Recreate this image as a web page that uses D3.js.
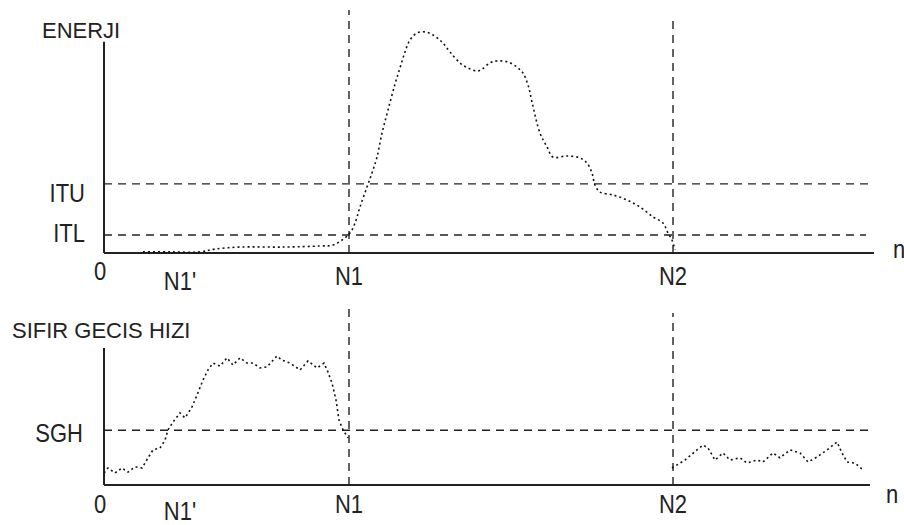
<!DOCTYPE html>
<html>
<head>
<meta charset="utf-8">
<title>Enerji ve Sifir Gecis Hizi</title>
<script src="https://cdn.jsdelivr.net/npm/d3@7"></script>
<style>
  body { margin: 0; background: #fff; }
  text { font-family: "Liberation Sans", Arial, sans-serif; fill: #222; }
</style>
</head>
<body>
<script>
// frame positions of the markers
var markN1p = 38, markN1 = 122.5, markN2 = 284.5;

// energy curve (frame, energy)
var energyFrames = [19.5, 33, 48, 55.5, 68, 89.5, 108, 114.5, 119, 123, 125.5, 128, 131.5, 134, 136.5, 139, 142, 145.5, 148, 150.5, 153, 156.5, 160.5, 164.5, 169, 173, 178, 182, 186.5, 189, 193, 196.5, 202, 206.5, 209.5, 212, 214, 218, 221.5, 224.5, 231.5, 238, 241.5, 244, 245.5, 248, 254.5, 261.5, 268, 274.5, 279.5, 282, 284, 285.5];
var energyValues = [0.5, 0.5, 0.5, 1.8, 2.7, 2.7, 3.2, 3.6, 5.9, 9.1, 13.6, 20.9, 30, 36.4, 43.6, 54.5, 65, 76.8, 84.1, 91.4, 96.8, 100, 100.5, 99.1, 95.9, 91.4, 86.4, 84.1, 82.7, 83.6, 86.4, 87.3, 86.8, 84.5, 81.8, 76.4, 68.6, 54.5, 48.2, 43.6, 44.1, 43.2, 40.9, 36.4, 30.9, 27.7, 26.4, 24.1, 20.9, 16.4, 13.6, 9.1, 5.9, 1.4];

// zero crossing rate, first segment (speech start) and second segment (after N2)
var zcrFramesA = [0, 2, 5.5, 9, 12, 15.5, 19, 22, 24.5, 28, 30.5, 32, 34.5, 38, 40.5, 44, 46.5, 49.5, 52, 54.5, 58, 61.5, 64.5, 68, 71.5, 74.5, 78, 81.5, 86.5, 89, 93, 98, 102, 106.5, 110, 112, 114, 116, 117.5, 119.5, 122];
var zcrValuesA = [4.4, 6.2, 4.4, 6.2, 4.7, 6.6, 6.2, 9.9, 12.8, 13.5, 16.4, 20.1, 23, 26.3, 24.5, 28.5, 32.8, 38.3, 42, 44.5, 43.4, 46.4, 43.8, 46.4, 44.5, 44.5, 42.7, 43.1, 47.1, 45.6, 44.5, 42, 45.3, 42.7, 44.5, 41.2, 37.2, 31, 23.7, 20.1, 17.2];
var zcrFramesB = [284, 290.5, 296.5, 299.5, 302, 305.5, 309.5, 313, 318, 321.5, 326.5, 329.5, 334.5, 338, 343, 348, 352, 356.5, 361.5, 366.5, 369, 371.5, 375.5, 379.5];
var zcrValuesB = [6.2, 9.1, 12.8, 14.6, 13.5, 9.1, 11.7, 9.1, 9.9, 8, 9.1, 8.4, 11.7, 9.9, 12.8, 11.7, 8.4, 10.2, 12.8, 15.7, 11.7, 8.4, 8, 5.5];

// thresholds
var itu = 31.4, itl = 8.2, sgh = 20;

var W = 904, H = 525;
var svg = d3.select("body").append("svg").attr("width", W).attr("height", H);

var x = d3.scaleLinear().domain([0, 385]).range([104, 874]);
var yE = d3.scaleLinear().domain([0, 100]).range([253, 33]);
var yZ = d3.scaleLinear().domain([0, 50]).range([485, 348]);

function zip(a, b) { return a.map(function(v, i) { return [v, b[i]]; }); }

function hline(y0, x0, x1, dash) {
    svg.append("line").attr("x1", x0).attr("x2", x1).attr("y1", y0).attr("y2", y0)
       .attr("stroke", "#222").attr("stroke-width", dash ? 1.4 : 2)
       .attr("stroke-dasharray", dash || null);
}
function vline(x0, y0, y1, dash) {
    svg.append("line").attr("x1", x0).attr("x2", x0).attr("y1", y0).attr("y2", y1)
       .attr("stroke", "#222").attr("stroke-width", dash ? 1.4 : 2)
       .attr("stroke-dasharray", dash || null);
}
function label(txt, px, py, anchor, stretch) {
    svg.append("text").text(txt)
       .attr("transform", "translate(" + px + "," + py + ") scale(1," + (stretch || 1) + ")")
       .attr("text-anchor", anchor || "start")
       .style("font-size", "22px");
}

// ---- top: energy ----
vline(x(0), yE(0), yE(96));
hline(yE(0), x(0), x(385));
hline(yE(itu), x(0), x(382), "8,6");
hline(yE(itl), x(0), x(381), "8,6");
vline(x(markN1), yE(0), yE(110.5), "8,6");
vline(x(markN2), yE(0), yE(107.7), "8,6");

var smooth = d3.line().x(function(d) { return x(d[0]); }).y(function(d) { return yE(d[1]); })
               .curve(d3.curveCatmullRom);
svg.append("path").datum(zip(energyFrames, energyValues)).attr("d", smooth)
   .attr("fill", "none").attr("stroke", "#111").attr("stroke-width", 1.6)
   .attr("stroke-dasharray", "2,3");

label("ENERJI", 42, 38);
label("ITU", 85, 202, "end", 1.2);
label("ITL", 85, 242, "end", 1.2);
label("0", x(0) - 4, 280, "middle", 1.15);
label("N1'", x(markN1p), 290, "middle", 1.15);
label("N1", x(markN1), 285, "middle", 1.2);
label("N2", x(markN2), 285, "middle", 1.2);
label("n", 893, 258, "start", 1.2);

// ---- bottom: zero crossing rate ----
vline(x(0), yZ(0), yZ(50));
hline(yZ(0), x(0), x(383));
hline(yZ(sgh), x(0), x(383.5), "8,6");
vline(x(markN1), yZ(0), yZ(65), "8,6");
vline(x(markN2), yZ(0), yZ(62.8), "8,6");

var jag = d3.line().x(function(d) { return x(d[0]); }).y(function(d) { return yZ(d[1]); });
[zip(zcrFramesA, zcrValuesA), zip(zcrFramesB, zcrValuesB)].forEach(function(seg) {
    svg.append("path").datum(seg).attr("d", jag)
       .attr("fill", "none").attr("stroke", "#111").attr("stroke-width", 1.6)
       .attr("stroke-dasharray", "2,3");
});

label("SIFIR GECIS HIZI", 12, 338);
label("SGH", 83, 442, "end", 1.2);
label("0", x(0) - 4, 513, "middle", 1.2);
label("N1'", x(markN1p), 520, "middle", 1.2);
label("N1", x(markN1), 513, "middle", 1.2);
label("N2", x(markN2), 513, "middle", 1.2);
label("n", 886, 503, "start", 1.2);
</script>
</body>
</html>
